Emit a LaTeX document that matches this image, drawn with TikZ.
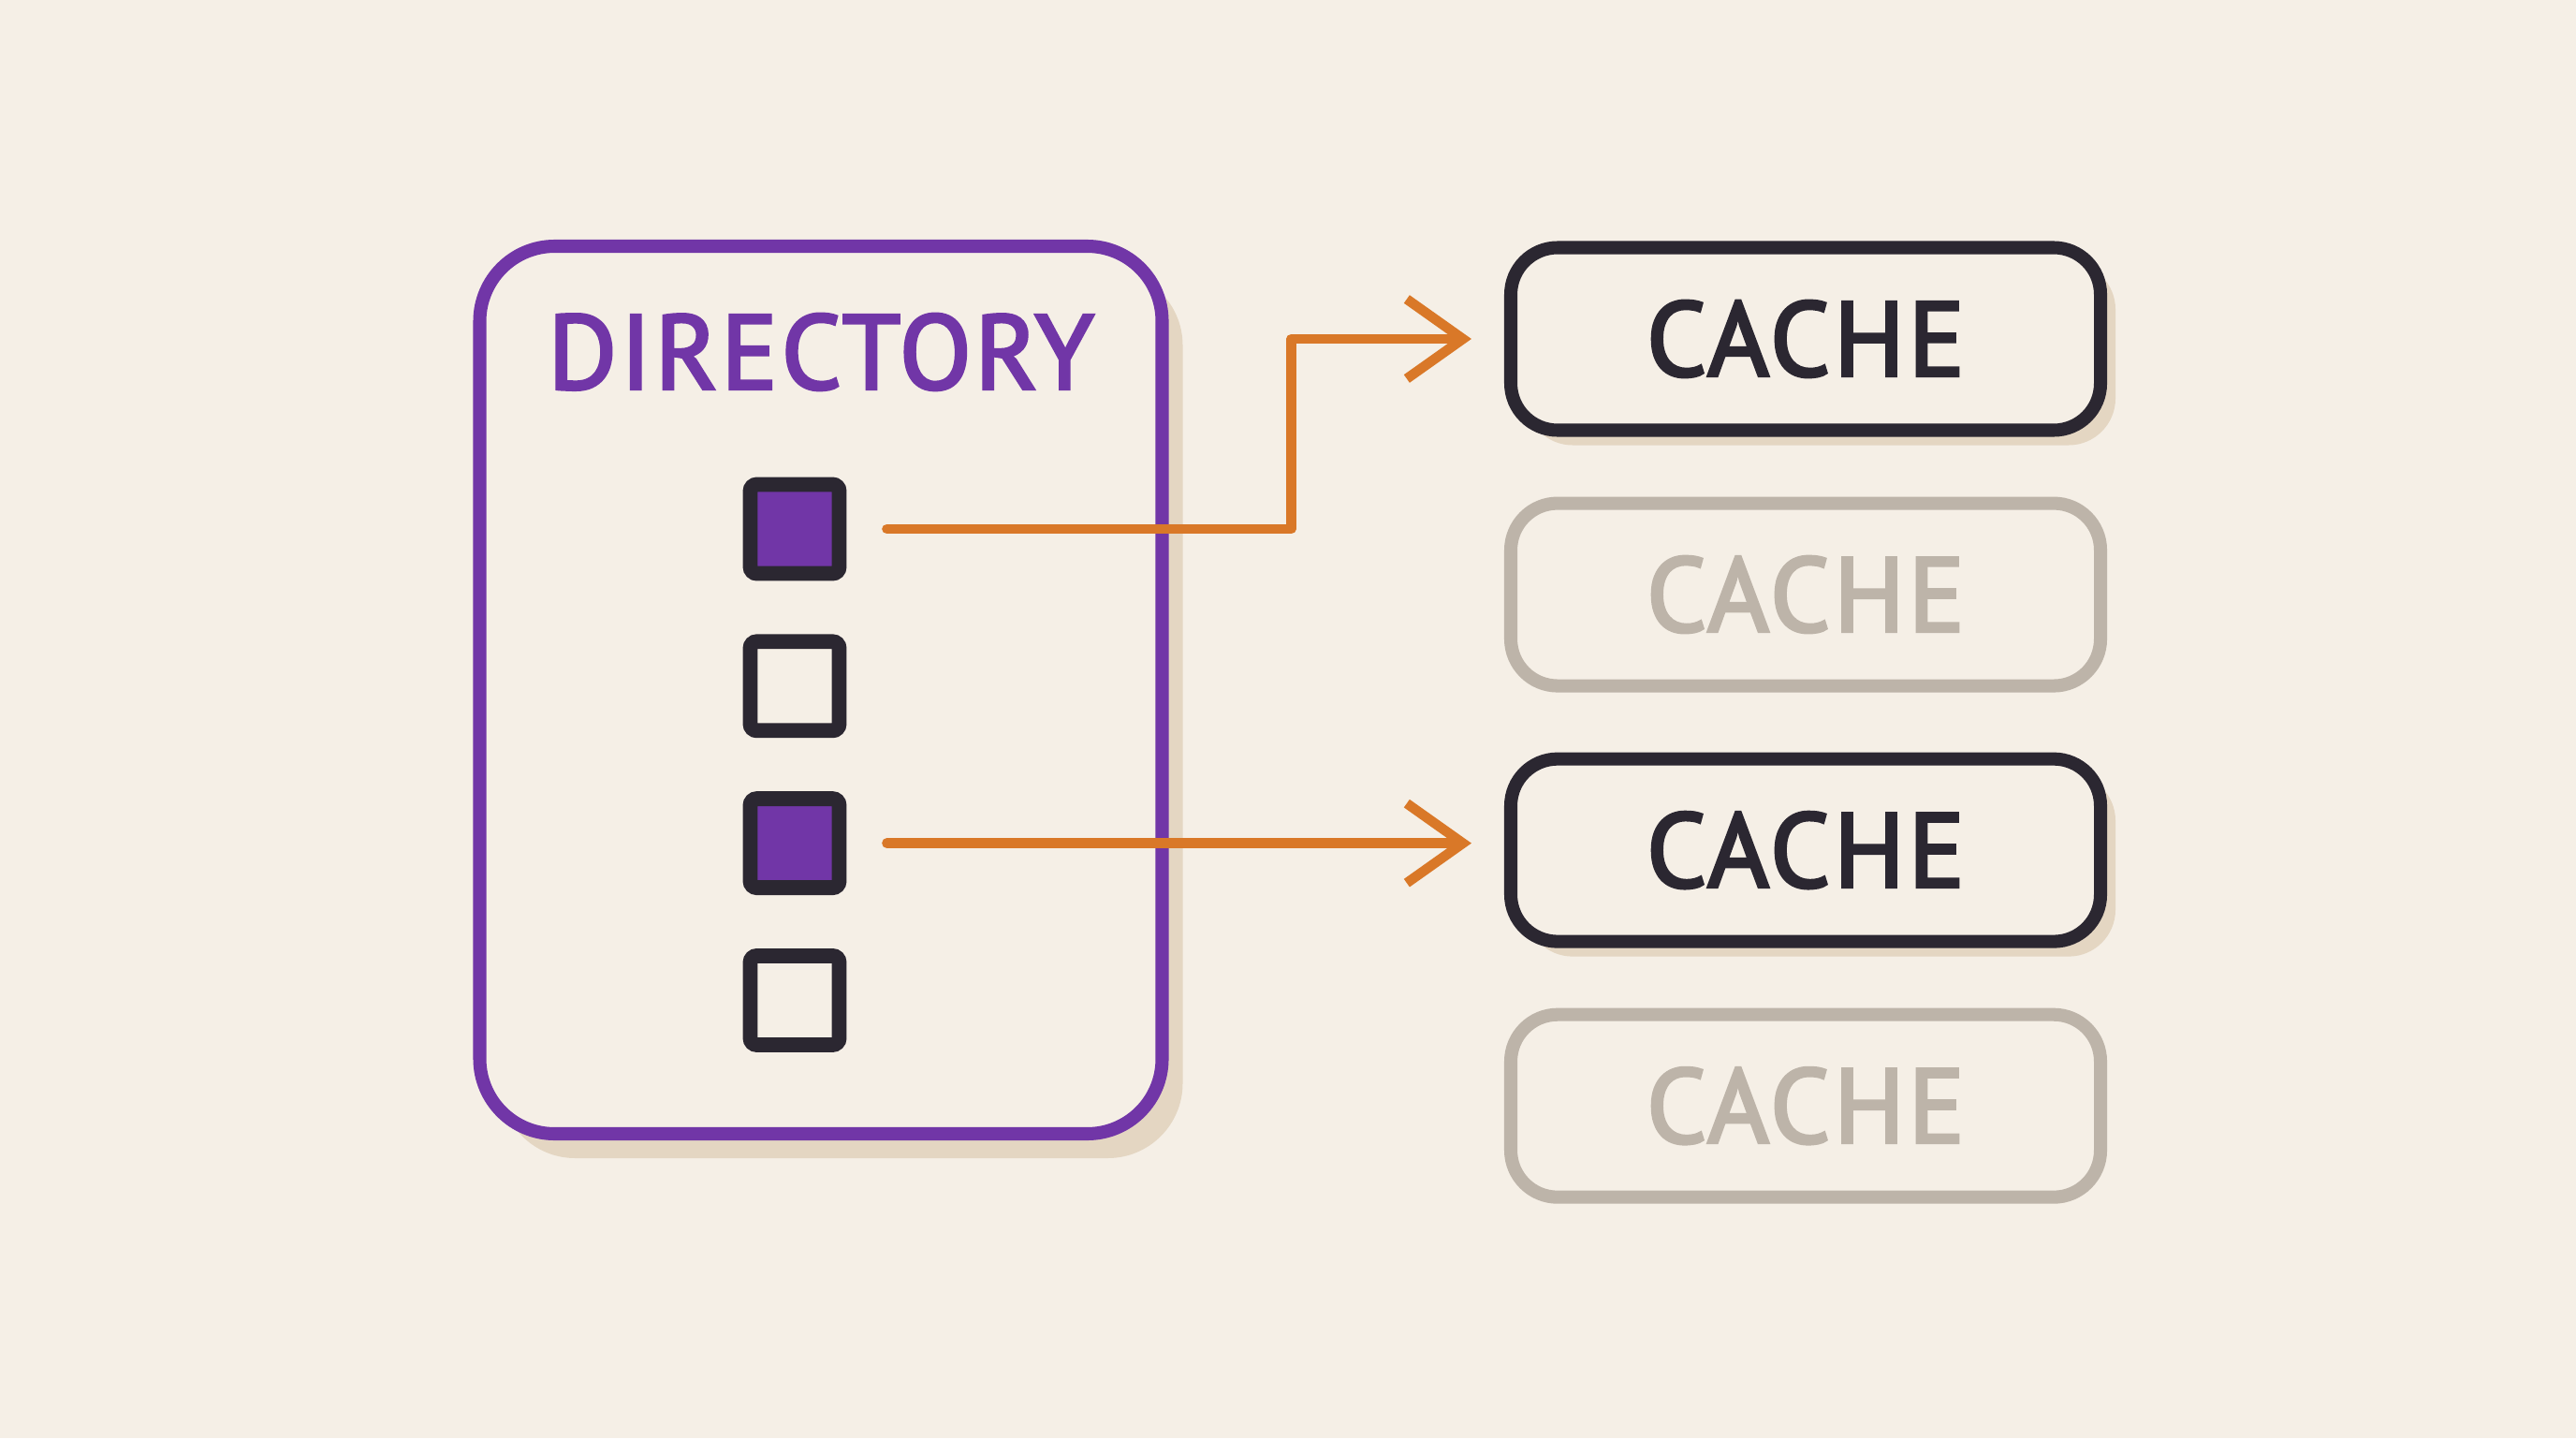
\documentclass[tikz,border=0pt]{standalone}
\usepackage{fontspec}
\setmainfont{PT Sans}
\newfontfamily\labelfont{PT Sans}[FakeBold=3, LetterSpace=3.5]
\usetikzlibrary{arrows.meta,positioning,calc,shadows}
\definecolor{paper}{HTML}{F5EFE6}
\definecolor{grape}{HTML}{7136A7}
\definecolor{ink}{HTML}{2B2731}
\definecolor{amber}{HTML}{D97828}
\definecolor{ghost}{HTML}{BDB4A9}
\definecolor{sand}{HTML}{E4D6C2}

\begin{document}
\begin{tikzpicture}[every node/.style={font=\labelfont\fontsize{32}{36}\selectfont},
  dirbox/.style={rectangle, rounded corners=0.8cm, draw=grape, line width=4pt, fill=paper, minimum width=7.29cm, minimum height=9.48cm,
    drop shadow={shadow xshift=0.22cm, shadow yshift=-0.26cm, fill=sand, opacity=1}},
  slot/.style={rectangle, rounded corners=2pt, draw=ink, line width=4.5pt, minimum size=0.95cm, inner sep=0pt},
  cachebox/.style={rectangle, rounded corners=0.5cm, line width=4pt, fill=paper, minimum width=6.3cm, minimum height=1.95cm, inner sep=0pt},
  live/.style={cachebox, draw=ink, text=ink, drop shadow={shadow xshift=0.16cm, shadow yshift=-0.16cm, fill=sand, opacity=1}},
  idle/.style={cachebox, draw=ghost, text=ghost},
  link/.style={-{Straight Barb[length=0.6cm, width=0.85cm]}, amber, line width=3pt, line cap=round, line join=round, shorten <=0.43cm, shorten >=0.35cm},
]

% Paper
\fill[paper] (0,0) rectangle (27.52,-15.36);

% Directory with its presence bits
\node[dirbox] (dir) at (8.77,-7.37) {};
\node[text=grape] (dirlabel) at ($(dir.north)+(0,-1.2)$) {DIRECTORY};

\node[slot, fill=grape] (slot1) at (8.49,-5.65) {};
\node[slot, fill=paper, below=0.57cm of slot1] (slot2) {};
\node[slot, fill=grape, below=0.57cm of slot2] (slot3) {};
\node[slot, fill=paper, below=0.57cm of slot3] (slot4) {};

% Caches, only the flagged ones are live
\node[live] (cache1) at (19.29,-3.62) {CACHE};
\node[idle, below=0.64cm of cache1] (cache2) {CACHE};
\node[live, below=0.64cm of cache2] (cache3) {CACHE};
\node[idle, below=0.64cm of cache3] (cache4) {CACHE};

% Pointers
\draw[link] (slot1.east) -- ++(4.75,0) |- (cache1.west);
\draw[link] (slot3.east) -- (slot3.east -| cache3.west);

\end{tikzpicture}
\end{document}
